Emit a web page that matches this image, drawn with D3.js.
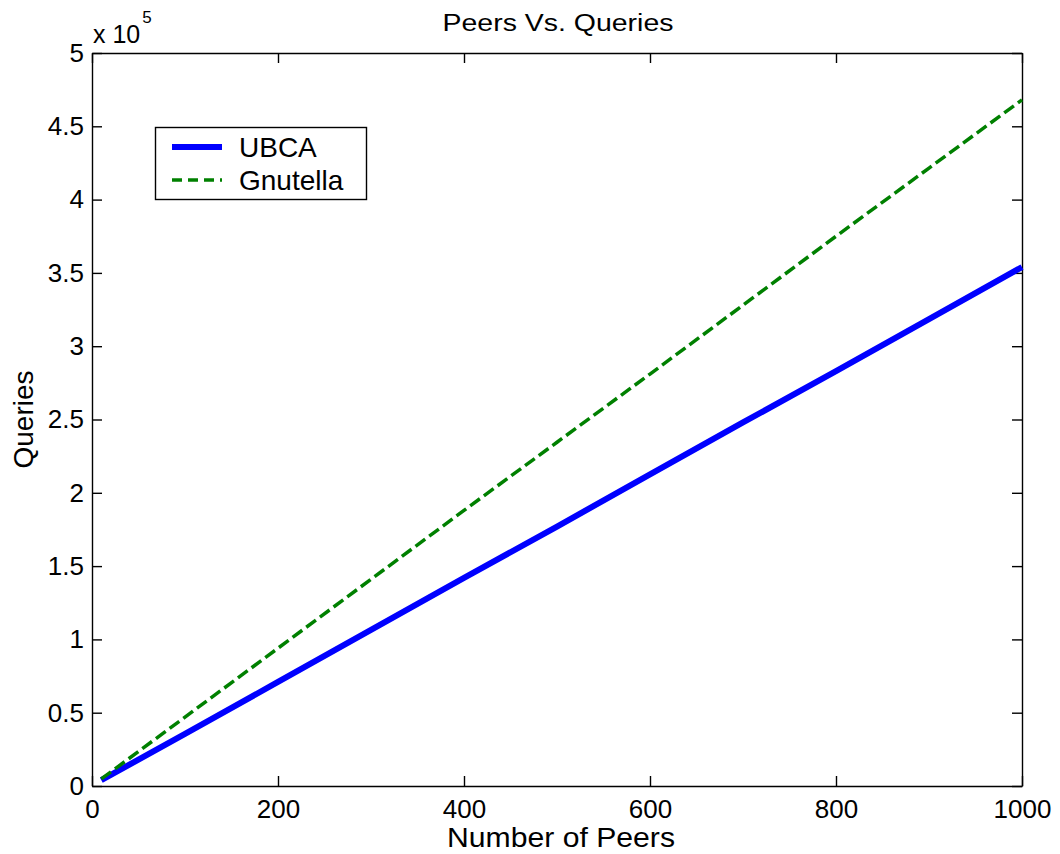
<!DOCTYPE html>
<html><head><meta charset="utf-8">
<script src="https://cdn.jsdelivr.net/npm/d3@7"></script>
<style>
html,body{margin:0;padding:0;background:#fff;}
text{font-family:"Liberation Sans",Arial,sans-serif;fill:#000;}
</style></head>
<body>
<svg id="chart" width="1060" height="854"></svg>
<script>
// Data
const peers = [10, 100, 200, 300, 400, 500, 600, 700, 800, 900, 1000];
const ubca = [4000, 35500, 71000, 106500, 142000, 177000, 212500, 248000, 283000, 318500, 354000];
const gnutella = [4800, 47000, 94000, 141000, 188000, 234500, 281000, 328000, 375000, 421500, 468000];
const xTicks = [0, 200, 400, 600, 800, 1000];
const yTicks = [0, 50000, 100000, 150000, 200000, 250000, 300000, 350000, 400000, 450000, 500000];
const seriesNames = ["UBCA", "Gnutella"];

const svg = d3.select("#chart");
const L = 92, T = 53, R = 1022, B = 786;
const x = d3.scaleLinear().domain([0, 1000]).range([L, R]);
const y = d3.scaleLinear().domain([0, 500000]).range([B, T]);

// axes
const fmtY = d => String(+(d / 1e5).toFixed(1));
const gL = svg.append("g").attr("transform", `translate(${L},0)`)
  .call(d3.axisLeft(y).tickValues(yTicks).tickFormat(fmtY).tickSizeInner(-10).tickSizeOuter(0).tickPadding(8));
const gB = svg.append("g").attr("transform", `translate(0,${B})`)
  .call(d3.axisBottom(x).tickValues(xTicks).tickFormat(d3.format("d")).tickSizeInner(-10).tickSizeOuter(0).tickPadding(14));
const gT = svg.append("g").attr("transform", `translate(0,${T})`)
  .call(d3.axisTop(x).tickValues(xTicks).tickFormat("").tickSizeInner(-10).tickSizeOuter(0));
const gR = svg.append("g").attr("transform", `translate(${R},0)`)
  .call(d3.axisRight(y).tickValues(yTicks).tickFormat("").tickSizeInner(-10).tickSizeOuter(0));
[gL, gB, gT, gR].forEach(g => {
  g.selectAll("path.domain").attr("stroke", "#000").attr("stroke-width", 1.4);
  g.selectAll(".tick line").attr("stroke", "#000").attr("stroke-width", 1.4);
  g.selectAll("text").style("font-family", '"Liberation Sans",Arial,sans-serif').style("font-size", "26px").attr("fill", "#000");
});

// lines
const line = d3.line().x((d, i) => x(peers[i])).y(d => y(d));
svg.append("path").datum(ubca).attr("d", line).attr("fill", "none")
  .attr("stroke", "#0000ff").attr("stroke-width", 6);
svg.append("path").datum(gnutella).attr("d", line).attr("fill", "none")
  .attr("stroke", "#008000").attr("stroke-width", 3.5).attr("stroke-dasharray", "12,5");

// exponent label
const ex = svg.append("text").attr("x", 93).attr("y", 43).style("font-size", "25px");
ex.append("tspan").text("x 10");
ex.append("tspan").attr("dy", -20).attr("dx", 2).style("font-size", "17px").text("5");

// title
svg.append("text").attr("x", 558).attr("y", 31).attr("text-anchor", "middle")
  .style("font-size", "23px").attr("textLength", 231).attr("lengthAdjust", "spacingAndGlyphs")
  .text("Peers Vs. Queries");
// x label
svg.append("text").attr("x", 561).attr("y", 847).attr("text-anchor", "middle")
  .style("font-size", "28px").attr("textLength", 228).attr("lengthAdjust", "spacingAndGlyphs")
  .text("Number of Peers");
// y label
svg.append("text").attr("transform", `translate(33,${(T + B) / 2}) rotate(-90)`).attr("text-anchor", "middle")
  .style("font-size", "28px").text("Queries");

// legend
const lg = svg.append("g");
lg.append("rect").attr("x", 155.5).attr("y", 127.5).attr("width", 211).attr("height", 72)
  .attr("fill", "#fff").attr("stroke", "#000").attr("stroke-width", 1.4);
const legStyles = [
  {color: "#0000ff", w: 6, dash: null},
  {color: "#008000", w: 3.5, dash: "10,6"}
];
seriesNames.forEach((name, i) => {
  const yy = 147 + i * 33;
  lg.append("line").attr("x1", 172).attr("x2", 222).attr("y1", yy).attr("y2", yy)
    .attr("stroke", legStyles[i].color).attr("stroke-width", legStyles[i].w)
    .attr("stroke-dasharray", legStyles[i].dash);
  lg.append("text").attr("x", 239).attr("y", yy + 10).style("font-size", "28px").text(name);
});
</script>
</body></html>
